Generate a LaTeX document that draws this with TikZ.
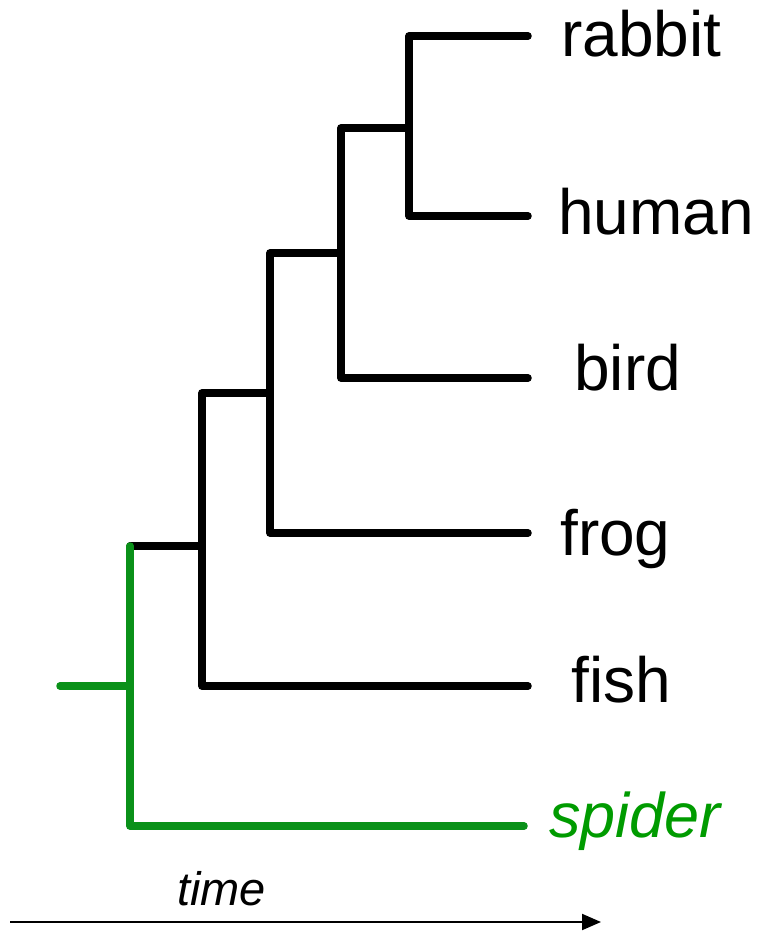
\documentclass[tikz,border=0pt]{standalone}
\usepackage{fontspec}
\setmainfont{Liberation Sans}
\usetikzlibrary{arrows.meta}
\definecolor{treegreen}{RGB}{10,145,25}
\definecolor{labelgreen}{RGB}{0,155,0}
\begin{document}
\begin{tikzpicture}[x=1pt,y=-1pt,
  branch/.style={line width=7.5pt,line cap=round,line join=round,black},
  outbranch/.style={branch,draw=treegreen},
  taxon/.style={anchor=base west,inner sep=0pt,font=\fontsize{64}{70}\selectfont},
  axis/.style={line width=2pt,-{Triangle[length=19pt,width=16pt]}}]
\useasboundingbox (0,0) rectangle (757,931);
% branch tips
\coordinate (tR) at (528,36);
\coordinate (tH) at (528,216);
\coordinate (tB) at (528,378);
\coordinate (tF) at (528,533);
\coordinate (tX) at (528,686);
\coordinate (tS) at (524,826);
% internal nodes
\coordinate (n1) at (409,128);
\coordinate (n2) at (341,253);
\coordinate (n3) at (270,393);
\coordinate (n4) at (202,546);
\coordinate (rt) at (130,686);
\coordinate (r0) at (60,686);
% ingroup
\draw[branch] (tR) -- (n1 |- tR) -- (n1 |- tH) -- (tH);
\draw[branch] (n1) -- (n2 |- n1) -- (n2 |- tB) -- (tB);
\draw[branch] (n2) -- (n3 |- n2) -- (n3 |- tF) -- (tF);
\draw[branch] (n3) -- (n4 |- n3) -- (n4 |- tX) -- (tX);
\draw[branch] (n4) -- (rt |- n4);
% outgroup and root
\draw[outbranch] (rt |- n4) -- (rt |- tS) -- (tS);
\draw[outbranch] (r0) -- (rt);
% labels
\node[taxon] (lR) at (561,57) {rabbit};
\node[taxon] (lH) at (558,234) {human};
\node[taxon] (lB) at (574,390) {bird};
\node[taxon] (lF) at (560,555) {frog};
\node[taxon] (lX) at (571,702) {fish};
\node[taxon,text=labelgreen,font=\fontsize{63}{70}\selectfont\itshape] (lS) at (549,837) {spider};
% time axis
\coordinate (a0) at (10,922);
\coordinate (a1) at (601,922);
\draw[axis] (a0) -- (a1);
\node[anchor=base west,inner sep=0pt,font=\fontsize{47}{52}\selectfont\itshape] (lt) at (177,905) {time};
\end{tikzpicture}
\end{document}
